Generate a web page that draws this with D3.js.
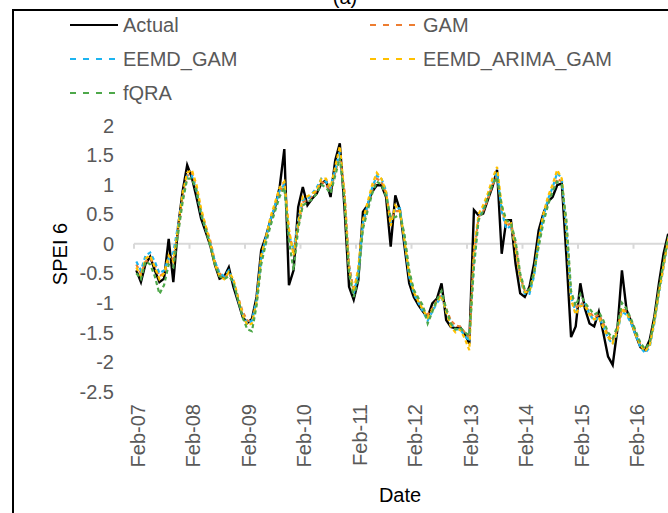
<!DOCTYPE html>
<html>
<head>
<meta charset="utf-8">
<script src="https://cdn.jsdelivr.net/npm/d3@7"></script>
<style>
  body { margin: 0; background: #fff; }
  svg { display: block; }
  text { font-family: "Liberation Sans", Arial, sans-serif; }
</style>
</head>
<body>
<svg id="chart" width="668" height="513"></svg>
<script>
// Monthly SPEI-6 series, Feb-2007 onward
const months = d3.timeMonth.range(new Date(2007, 1, 1), new Date(2016, 9, 1));
const tickLabels = ["Feb-07", "Feb-08", "Feb-09", "Feb-10", "Feb-11", "Feb-12", "Feb-13", "Feb-14", "Feb-15", "Feb-16"];
const yTicks = [2, 1.5, 1, 0.5, 0, -0.5, -1, -1.5, -2, -2.5];
const seriesNames = ["Actual", "GAM", "EEMD_GAM", "EEMD_ARIMA_GAM", "fQRA"];

const actual = [
  -0.45, -0.65, -0.34, -0.22, -0.45, -0.65, -0.59, 0.08, -0.65, 0.26, 0.88, 1.33,
  1.12, 0.79, 0.43, 0.20, -0.03, -0.36, -0.59, -0.56, -0.40, -0.73, -0.98, -1.24,
  -1.34, -1.27, -0.90, -0.11, 0.12, 0.40, 0.62, 0.96, 1.60, -0.70, -0.45, 0.62,
  0.96, 0.65, 0.76, 0.85, 1.02, 1.07, 0.79, 1.41, 1.70, 0.62, -0.73, -0.95,
  -0.62, 0.54, 0.65, 0.88, 0.99, 0.99, 0.79, -0.05, 0.82, 0.57, -0.05, -0.67,
  -0.90, -1.04, -1.15, -1.24, -1.01, -0.93, -0.67, -1.29, -1.41, -1.43, -1.41, -1.52,
  -1.69, 0.57, 0.48, 0.51, 0.74, 0.96, 1.25, -0.17, 0.40, 0.40, -0.34, -0.84,
  -0.90, -0.73, -0.34, 0.23, 0.51, 0.71, 0.79, 0.99, 1.02, -0.22, -1.58, -1.40,
  -0.67, -1.10, -1.35, -1.40, -1.15, -1.52, -1.91, -2.05, -1.46, -0.45, -1.12, -1.32,
  -1.55, -1.75, -1.80, -1.63, -1.24, -0.67, -0.17, 0.17
];
const gam = [
  -0.35, -0.50, -0.30, -0.25, -0.35, -0.55, -0.50, -0.30, -0.25, 0.20, 0.75, 1.15,
  1.20, 0.95, 0.55, 0.30, 0.05, -0.30, -0.50, -0.58, -0.50, -0.62, -0.90, -1.15,
  -1.30, -1.32, -1.00, -0.30, 0.05, 0.35, 0.60, 0.85, 1.05, 0.20, -0.15, 0.30,
  0.70, 0.75, 0.80, 0.90, 1.05, 1.00, 0.90, 1.20, 1.50, 0.90, -0.35, -0.80,
  -0.45, 0.30, 0.60, 0.90, 1.10, 1.05, 0.85, 0.40, 0.55, 0.55, 0.10, -0.50,
  -0.80, -0.95, -1.10, -1.20, -1.10, -0.95, -0.85, -1.10, -1.30, -1.38, -1.40, -1.50,
  -1.60, -0.20, 0.45, 0.55, 0.75, 1.00, 1.15, 0.60, 0.30, 0.35, 0.00, -0.55,
  -0.80, -0.80, -0.50, 0.00, 0.40, 0.70, 0.90, 1.10, 1.05, 0.30, -0.85, -1.10,
  -1.00, -1.05, -1.15, -1.25, -1.20, -1.35, -1.55, -1.65, -1.45, -1.10, -1.15, -1.30,
  -1.50, -1.70, -1.80, -1.70, -1.30, -0.80, -0.35, 0.10
];
const eemdGam = [
  -0.30, -0.45, -0.20, -0.15, -0.30, -0.50, -0.45, -0.25, -0.15, 0.30, 0.80, 1.15,
  1.15, 0.90, 0.50, 0.25, 0.00, -0.30, -0.50, -0.55, -0.45, -0.65, -0.95, -1.20,
  -1.35, -1.30, -0.95, -0.25, 0.10, 0.40, 0.65, 0.90, 1.00, 0.15, -0.10, 0.40,
  0.75, 0.75, 0.85, 0.95, 1.10, 1.05, 0.95, 1.25, 1.55, 0.80, -0.40, -0.85,
  -0.50, 0.35, 0.65, 0.95, 1.15, 1.10, 0.90, 0.35, 0.60, 0.60, 0.05, -0.55,
  -0.85, -1.00, -1.15, -1.30, -1.15, -1.00, -0.90, -1.15, -1.35, -1.45, -1.45, -1.55,
  -1.65, -0.30, 0.45, 0.60, 0.80, 1.05, 1.20, 0.55, 0.25, 0.30, -0.05, -0.60,
  -0.85, -0.85, -0.55, 0.05, 0.45, 0.75, 0.95, 1.20, 1.10, 0.20, -0.90, -1.15,
  -1.05, -1.00, -1.20, -1.30, -1.25, -1.40, -1.60, -1.70, -1.50, -1.15, -1.20, -1.35,
  -1.55, -1.75, -1.85, -1.75, -1.35, -0.85, -0.40, 0.05
];
const eemdArimaGam = [
  -0.40, -0.55, -0.25, -0.20, -0.40, -0.60, -0.50, -0.20, -0.30, 0.25, 0.85, 1.20,
  1.25, 1.00, 0.60, 0.30, 0.00, -0.35, -0.55, -0.60, -0.48, -0.60, -0.92, -1.20,
  -1.38, -1.35, -0.98, -0.20, 0.10, 0.45, 0.70, 0.95, 1.05, 0.25, -0.20, 0.35,
  0.80, 0.80, 0.85, 0.90, 1.10, 1.10, 0.95, 1.30, 1.65, 0.85, -0.45, -0.82,
  -0.40, 0.40, 0.70, 1.00, 1.20, 1.10, 0.88, 0.30, 0.65, 0.55, 0.05, -0.52,
  -0.82, -0.98, -1.12, -1.25, -1.12, -0.98, -0.88, -1.15, -1.40, -1.50, -1.45, -1.60,
  -1.80, -0.10, 0.50, 0.65, 0.85, 1.10, 1.30, 0.65, 0.35, 0.35, -0.10, -0.58,
  -0.82, -0.82, -0.50, 0.05, 0.50, 0.80, 1.00, 1.25, 1.10, 0.25, -0.95, -1.20,
  -1.05, -1.05, -1.20, -1.28, -1.25, -1.42, -1.58, -1.68, -1.48, -1.12, -1.18, -1.32,
  -1.55, -1.72, -1.82, -1.72, -1.32, -0.82, -0.38, 0.08
];
const fqra = [
  -0.50, -0.60, -0.30, -0.35, -0.55, -0.85, -0.70, -0.35, -0.40, 0.15, 0.70, 1.10,
  1.10, 0.90, 0.50, 0.25, -0.05, -0.35, -0.55, -0.60, -0.55, -0.65, -0.95, -1.25,
  -1.45, -1.48, -1.05, -0.35, 0.00, 0.30, 0.55, 0.80, 0.95, 0.05, -0.45, 0.25,
  0.65, 0.70, 0.75, 0.85, 1.00, 0.95, 0.85, 1.15, 1.45, 0.75, -0.50, -0.90,
  -0.60, 0.25, 0.55, 0.85, 1.05, 1.00, 0.80, 0.45, 0.45, 0.50, 0.15, -0.45,
  -0.78, -0.92, -1.05, -1.35, -1.15, -0.95, -0.80, -1.10, -1.35, -1.45, -1.42, -1.50,
  -1.55, -0.40, 0.40, 0.55, 0.78, 1.00, 1.12, 0.65, 0.40, 0.35, 0.05, -0.50,
  -0.78, -0.78, -0.48, -0.05, 0.35, 0.65, 0.88, 1.05, 1.00, 0.40, -0.80, -1.05,
  -0.85, -1.00, -1.10, -1.20, -1.15, -1.30, -1.50, -1.60, -1.40, -1.00, -1.10, -1.28,
  -1.48, -1.68, -1.78, -1.68, -1.28, -0.78, -0.30, 0.12
];

const series = [
  { name: seriesNames[0], values: actual, color: "#000000", dash: null, width: 2.4 },
  { name: seriesNames[1], values: gam, color: "#ED7D31", dash: "4,3", width: 2.2 },
  { name: seriesNames[2], values: eemdGam, color: "#1CB4F0", dash: "4,3", width: 2.2 },
  { name: seriesNames[3], values: eemdArimaGam, color: "#FFC000", dash: "4,3", width: 2.2 },
  { name: seriesNames[4], values: fqra, color: "#4EA84A", dash: "4,3", width: 2.2 }
];

const svg = d3.select("#chart");
const textColor = "#595959";

// Outer frame and panel letter
svg.append("rect")
  .attr("x", 13).attr("y", 10).attr("width", 700).attr("height", 600)
  .attr("fill", "none").attr("stroke", "#000").attr("stroke-width", 2);
svg.append("text")
  .attr("x", 345).attr("y", 4).attr("text-anchor", "middle")
  .attr("font-size", 20).attr("fill", "#000").text("(a)");

// Scales: one band per month, 12 bands per labelled year
const bandW = 4.625;
const x = d3.scaleBand()
  .domain(d3.range(months.length))
  .range([134, 134 + bandW * months.length])
  .paddingInner(0).paddingOuter(0);
const y = d3.scaleLinear().domain([-2.5, 2]).range([391.5, 125.5]);

// Y-axis labels
svg.append("g").selectAll("text").data(yTicks).join("text")
  .attr("x", 114).attr("y", d => y(d)).attr("dy", "0.36em")
  .attr("text-anchor", "end").attr("font-size", 20).attr("fill", textColor)
  .text(d => String(d));

// Horizontal axis line at zero with yearly tick marks
const axisG = svg.append("g");
axisG.append("line")
  .attr("x1", x(0)).attr("x2", 668)
  .attr("y1", y(0)).attr("y2", y(0))
  .attr("stroke", "#D9D9D9").attr("stroke-width", 2);
const yearStarts = tickLabels.map((_, k) => k * 12);
axisG.selectAll("line.tick").data(yearStarts).join("line")
  .attr("class", "tick")
  .attr("x1", d => x(d)).attr("x2", d => x(d))
  .attr("y1", y(0)).attr("y2", y(0) + 5)
  .attr("stroke", "#D9D9D9").attr("stroke-width", 2);

// Rotated date labels
svg.append("g").selectAll("text").data(tickLabels).join("text")
  .attr("transform", (d, k) => `translate(${x(k * 12) + bandW / 2 + 1},404) rotate(-90)`)
  .attr("dy", "0.36em").attr("text-anchor", "end")
  .attr("font-size", 20).attr("fill", textColor)
  .text(d => d);

// Axis titles
svg.append("text")
  .attr("x", 400).attr("y", 502).attr("text-anchor", "middle")
  .attr("font-size", 20).attr("fill", "#000").text("Date");
svg.append("text")
  .attr("transform", "translate(60,254) rotate(-90)")
  .attr("dy", "0.36em").attr("text-anchor", "middle")
  .attr("font-size", 20).attr("fill", "#000").text("SPEI 6");

// Series lines
const line = d3.line()
  .x((d, i) => x(i) + bandW / 2)
  .y(d => y(d));
svg.append("g").selectAll("path").data(series).join("path")
  .attr("d", s => line(s.values))
  .attr("fill", "none")
  .attr("stroke", s => s.color)
  .attr("stroke-width", s => s.width)
  .attr("stroke-dasharray", s => s.dash)
  .attr("stroke-linejoin", "miter");

// Legend (two columns, three rows)
const legendPos = [
  { x: 70, y: 25 }, { x: 370, y: 25 },
  { x: 70, y: 59 }, { x: 370, y: 59 },
  { x: 70, y: 93 }
];
const legend = svg.append("g").selectAll("g").data(series).join("g")
  .attr("transform", (s, i) => `translate(${legendPos[i].x},${legendPos[i].y})`);
legend.append("line")
  .attr("x1", 0).attr("x2", 48).attr("y1", 0).attr("y2", 0)
  .attr("stroke", s => s.color)
  .attr("stroke-width", 2)
  .attr("stroke-dasharray", s => s.dash ? "6,7" : null);
legend.append("text")
  .attr("x", 53).attr("dy", "0.36em")
  .attr("font-size", 20).attr("fill", textColor)
  .text(s => s.name);
</script>
</body>
</html>
